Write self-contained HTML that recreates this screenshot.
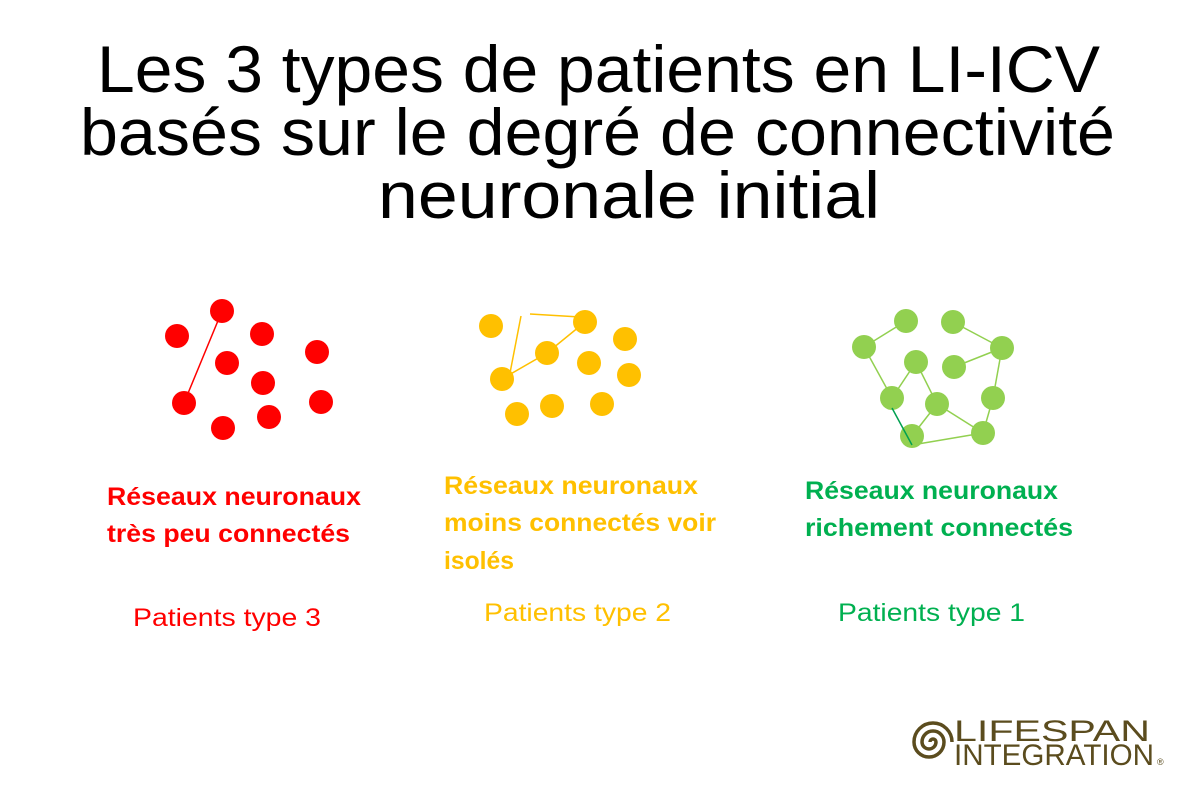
<!DOCTYPE html>
<html><head><meta charset="utf-8"><style>
html,body{margin:0;padding:0;background:#fff;}
svg{display:block;}
text{font-family:"Liberation Sans",sans-serif;}
</style></head><body>
<svg width="1200" height="796" viewBox="0 0 1200 796" xmlns="http://www.w3.org/2000/svg">
<rect width="1200" height="796" fill="#fff"/>
<g font-size="66" fill="#000" text-anchor="start">
<text x="97" y="92" textLength="1003" lengthAdjust="spacingAndGlyphs">Les 3 types de patients en LI-ICV</text>
<text x="80" y="155" textLength="1035" lengthAdjust="spacingAndGlyphs">basés sur le degré de connectivité</text>
<text x="378" y="218" textLength="502" lengthAdjust="spacingAndGlyphs">neuronale initial</text>
</g>
<!-- red -->
<line x1="222" y1="311" x2="184" y2="403" stroke="#f00" stroke-width="1.5"/>
<g fill="#f00">
<circle cx="222" cy="311" r="12"/><circle cx="177" cy="336" r="12"/><circle cx="262" cy="334" r="12"/>
<circle cx="227" cy="363" r="12"/><circle cx="317" cy="352" r="12"/><circle cx="263" cy="383" r="12"/>
<circle cx="184" cy="403" r="12"/><circle cx="321" cy="402" r="12"/><circle cx="223" cy="428" r="12"/>
<circle cx="269" cy="417" r="12"/>
</g>
<!-- yellow -->
<g stroke="#ffc000" stroke-width="1.5" fill="none">
<line x1="521" y1="316" x2="510" y2="373"/>
<line x1="530" y1="314" x2="580" y2="317"/>
<polyline points="502,379 547,353 585,322"/>
</g>
<g fill="#ffc000">
<circle cx="491" cy="326" r="12"/><circle cx="585" cy="322" r="12"/><circle cx="625" cy="339" r="12"/>
<circle cx="547" cy="353" r="12"/><circle cx="589" cy="363" r="12"/><circle cx="629" cy="375" r="12"/>
<circle cx="502" cy="379" r="12"/><circle cx="517" cy="414" r="12"/><circle cx="552" cy="406" r="12"/>
<circle cx="602" cy="404" r="12"/>
</g>
<!-- green -->
<g stroke="#92d050" stroke-width="1.5" fill="none">
<line x1="906" y1="321" x2="864" y2="347"/>
<line x1="864" y1="347" x2="892" y2="398"/>
<line x1="892" y1="398" x2="916" y2="362"/>
<line x1="916" y1="362" x2="937" y2="404"/>
<line x1="937" y1="404" x2="912" y2="436"/>
<line x1="937" y1="404" x2="983" y2="433"/>
<line x1="912" y1="445" x2="983" y2="433"/>
<line x1="983" y1="433" x2="993" y2="398"/>
<line x1="993" y1="398" x2="1002" y2="348"/>
<line x1="1002" y1="348" x2="954" y2="367"/>
<line x1="1002" y1="348" x2="953" y2="322"/>
</g>
<g fill="#92d050">
<circle cx="906" cy="321" r="12"/><circle cx="953" cy="322" r="12"/><circle cx="864" cy="347" r="12"/>
<circle cx="1002" cy="348" r="12"/><circle cx="916" cy="362" r="12"/><circle cx="954" cy="367" r="12"/>
<circle cx="892" cy="398" r="12"/><circle cx="937" cy="404" r="12"/><circle cx="993" cy="398" r="12"/>
<circle cx="912" cy="436" r="12"/><circle cx="983" cy="433" r="12"/>
</g>
<line x1="892" y1="408" x2="912" y2="445" stroke="#00a050" stroke-width="1.5"/>
<!-- labels -->
<g font-size="25" font-weight="bold">
<text x="107" y="505" fill="#f00" textLength="254" lengthAdjust="spacingAndGlyphs">Réseaux neuronaux</text>
<text x="107" y="542" fill="#f00" textLength="243" lengthAdjust="spacingAndGlyphs">très peu connectés</text>
<text x="444" y="494" fill="#ffc000" textLength="254" lengthAdjust="spacingAndGlyphs">Réseaux neuronaux</text>
<text x="444" y="531" fill="#ffc000" textLength="272" lengthAdjust="spacingAndGlyphs">moins connectés voir</text>
<text x="444" y="569" fill="#ffc000" textLength="70" lengthAdjust="spacingAndGlyphs">isolés</text>
<text x="805" y="499" fill="#00b050" textLength="253" lengthAdjust="spacingAndGlyphs">Réseaux neuronaux</text>
<text x="805" y="536" fill="#00b050" textLength="268" lengthAdjust="spacingAndGlyphs">richement connectés</text>
</g>
<g font-size="25">
<text x="133" y="626" fill="#f00" textLength="188" lengthAdjust="spacingAndGlyphs">Patients type 3</text>
<text x="484" y="621" fill="#ffc000" textLength="187" lengthAdjust="spacingAndGlyphs">Patients type 2</text>
<text x="838" y="621" fill="#00b050" textLength="187" lengthAdjust="spacingAndGlyphs">Patients type 1</text>
</g>
<!-- logo -->
<g stroke="#5b4c1e" stroke-width="3.5" fill="none">
<path d="M930,742 a3,3 0 0 1 6,0 a7,7 0 0 1 -14,0 a11,11 0 0 1 22,0 a15,15 0 0 1 -30,0 a19,19 0 0 1 38,0"/>
</g>
<g fill="#5b4c1e" font-size="30">
<text x="954" y="741" textLength="196" lengthAdjust="spacingAndGlyphs">LIFESPAN</text>
<text x="954" y="765" textLength="200" lengthAdjust="spacingAndGlyphs">INTEGRATION</text>
<text x="1157" y="765" font-size="9">®</text>
</g>
</svg>
</body></html>
